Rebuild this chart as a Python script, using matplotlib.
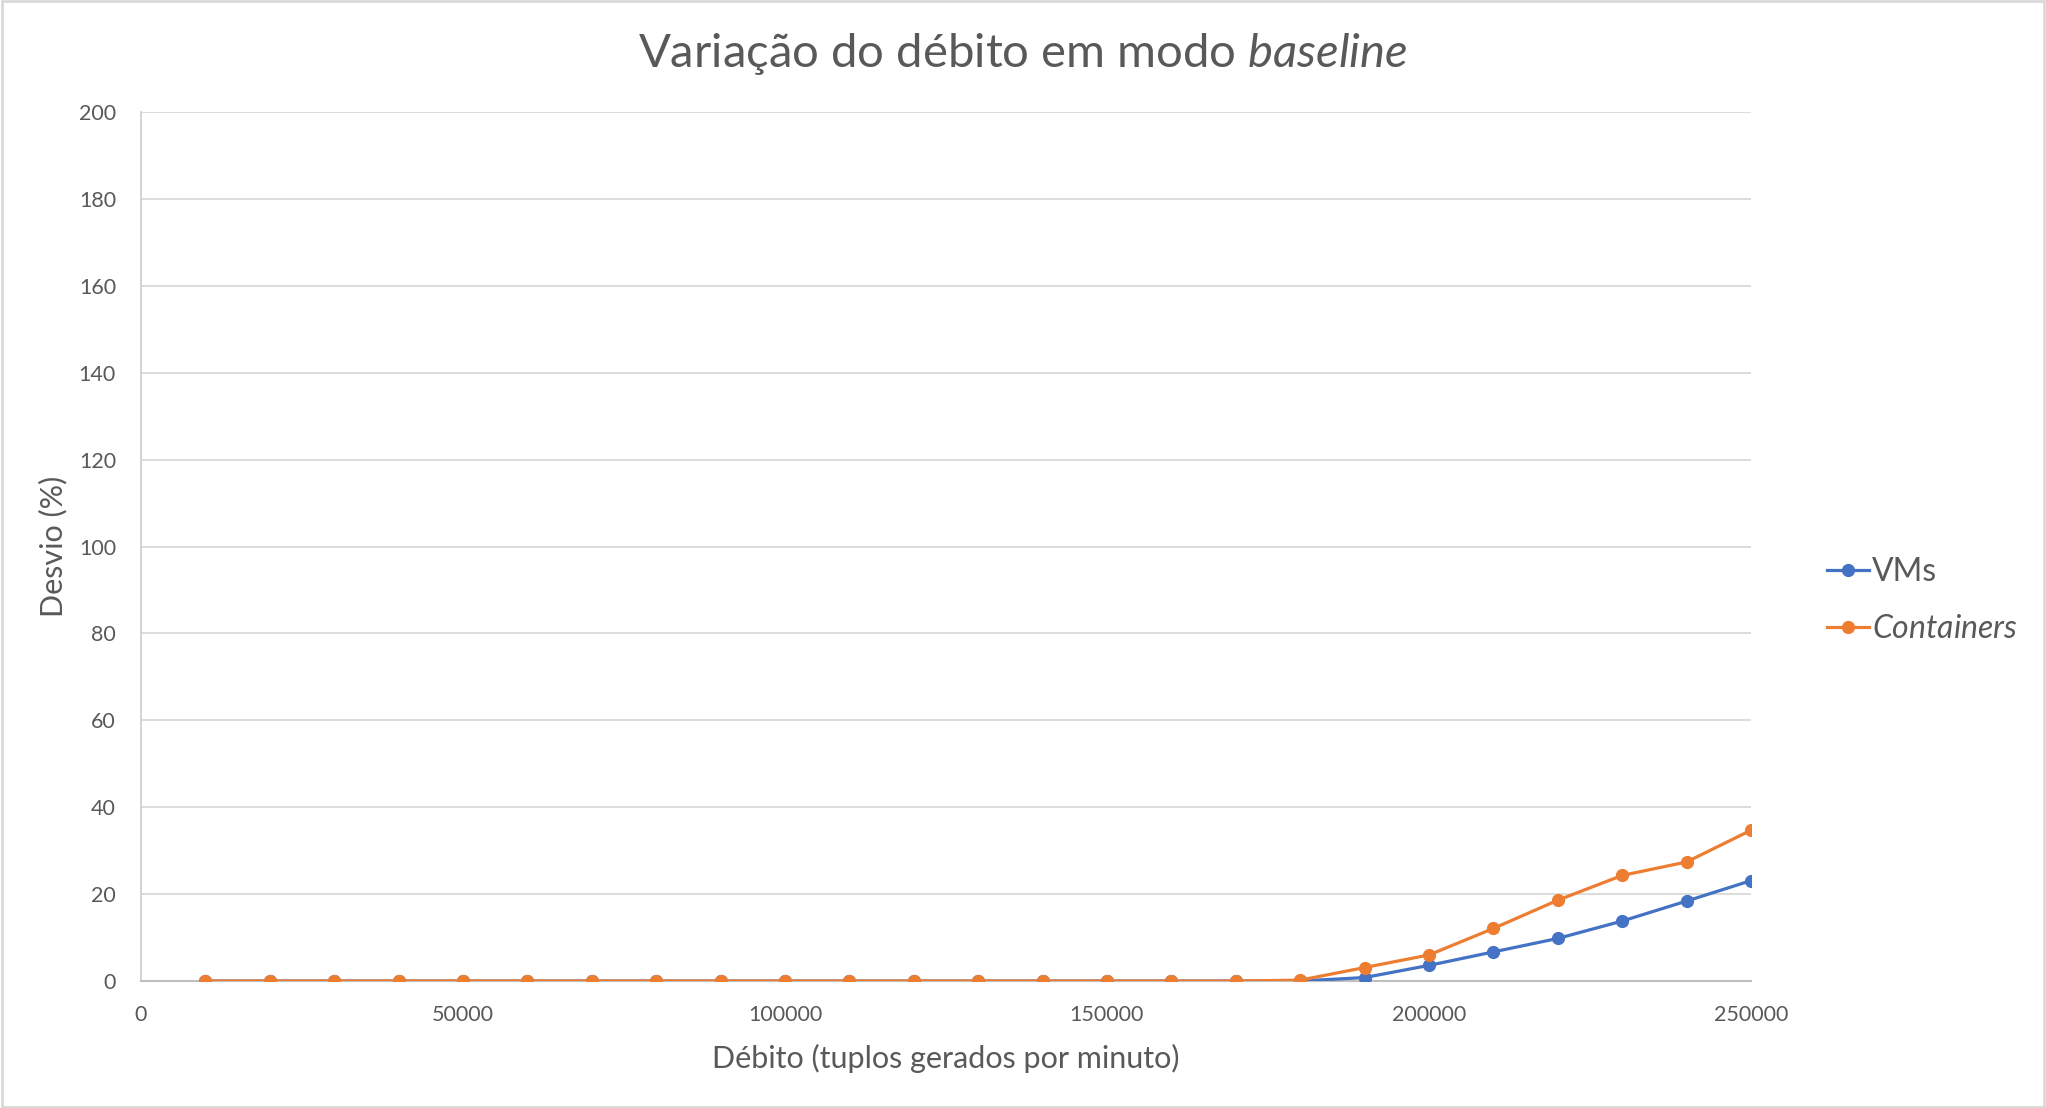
import numpy as np
import matplotlib
matplotlib.use("Agg")
from matplotlib import pyplot as plt
from matplotlib.patches import Rectangle

# data
debito = [10000, 20000, 30000, 40000, 50000, 60000, 70000, 80000, 90000, 100000,
          110000, 120000, 130000, 140000, 150000, 160000, 170000, 180000, 190000,
          200000, 210000, 220000, 230000, 240000, 250000]
vms = [0, 0, 0, 0, 0, 0, 0, 0, 0, 0, 0, 0, 0, 0, 0, 0, 0, 0,
       0.8, 3.6, 6.7, 9.8, 13.8, 18.4, 23.1]
containers = [0, 0, 0, 0, 0, 0, 0, 0, 0, 0, 0, 0, 0, 0, 0, 0, 0, 0.2,
              3.1, 6.0, 12.1, 18.6, 24.3, 27.4, 34.7]
x_ticks = [0, 50000, 100000, 150000, 200000, 250000]
y_ticks = [0, 20, 40, 60, 80, 100, 120, 140, 160, 180, 200]

txt = "#595959"
plt.rcParams["font.family"] = ["Lato", "DejaVu Sans"]
plt.rcParams["mathtext.fontset"] = "custom"
plt.rcParams["mathtext.it"] = "Lato:italic"
plt.rcParams["mathtext.rm"] = "Lato"

fig = plt.figure(figsize=(20.46, 11.08), dpi=100)
ax = fig.add_axes([0.0689, 0.1146, 0.7869, 0.7843])

ax.plot(debito, vms, color="#4472C4", lw=2.3, marker="o", markersize=8.5, label="VMs", zorder=3)
ax.plot(debito, containers, color="#ED7D31", lw=2.3, marker="o", markersize=8.5,
        label="$\\mathit{Containers}$", zorder=4)

ax.set_xlim(0, 250000)
ax.set_ylim(0, 200)
ax.set_xticks(x_ticks)
ax.set_yticks(y_ticks)
ax.tick_params(length=0, labelsize=15.5, labelcolor=txt)
ax.tick_params(axis="y", pad=18)
ax.tick_params(axis="x", pad=17)
ax.grid(axis="y", color="#D9D9D9", lw=1.3)
ax.set_axisbelow(True)
for s in ["top", "right"]:
    ax.spines[s].set_visible(False)
ax.spines["left"].set_color("#D0D0D0")
ax.spines["left"].set_linewidth(1.3)
ax.spines["bottom"].set_color("#BFBFBF")
ax.spines["bottom"].set_linewidth(1.5)

ax.set_xlabel("Débito (tuplos gerados por minuto)", fontsize=22, color=txt, labelpad=14)
ax.set_ylabel("Desvio (%)", fontsize=22, color=txt, labelpad=8)

fig.text(0.5, 0.951, "Variação do débito em modo $\\mathit{baseline}$", fontsize=34,
         color=txt, ha="center", va="center")

leg = ax.legend(loc="center left", bbox_to_anchor=(0.893, 0.458), bbox_transform=fig.transFigure,
                frameon=False, fontsize=23, labelcolor=txt, handlelength=1.3,
                handletextpad=0.1, labelspacing=0.85, borderpad=0, borderaxespad=0)

# light border round the whole chart
fig.patches.append(Rectangle((0.001, 0.001), 0.998, 0.998, transform=fig.transFigure,
                             fill=False, edgecolor="#D9D9D9", lw=2))

fig.savefig("out.png", dpi=100)
